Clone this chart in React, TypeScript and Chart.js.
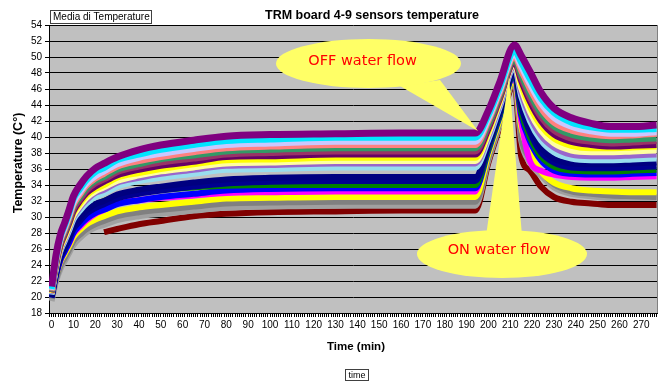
import React, { useEffect, useRef } from "react";
import { Chart, registerables } from "chart.js";

Chart.register(...registerables);

// ---- data (minutes, °C) ----
const TIME = [0, 2, 4, 6, 8, 10, 13, 16, 20, 24, 30, 40, 50, 65, 80, 100, 130, 160, 194, 200, 205, 212, 215, 219, 224, 230, 238, 247, 256, 266, 277];

const X_TICK_LABELS = [0, 10, 20, 30, 40, 50, 60, 70, 80, 90, 100, 110, 120, 130, 140, 150, 160, 170, 180, 190, 200, 210, 220, 230, 240, 250, 260, 270];

const s01 = [21.3, 25.2, 27.8, 29.3, 30.9, 32.6, 34.0, 35.1, 36.1, 36.7, 37.5, 38.4, 39.0, 39.6, 40.1, 40.3, 40.4, 40.5, 40.5, 43.3, 46.7, 51.5, 50.2, 48.2, 45.6, 43.6, 42.4, 41.7, 41.3, 41.3, 41.5];
const s02 = [21.0, 24.8, 27.4, 28.9, 30.4, 32.2, 33.5, 34.6, 35.6, 36.1, 37.1, 37.8, 38.4, 39.0, 39.5, 39.7, 39.9, 39.9, 39.9, 42.7, 46.0, 50.7, 49.3, 47.2, 44.8, 43.0, 41.8, 41.2, 40.9, 40.9, 41.0];
const s03 = [20.9, 24.6, 27.2, 28.7, 30.2, 31.8, 33.1, 34.2, 35.1, 35.7, 36.6, 37.4, 37.9, 38.5, 39.0, 39.2, 39.4, 39.4, 39.4, 42.3, 45.7, 50.3, 48.8, 46.6, 44.2, 42.4, 41.3, 40.7, 40.4, 40.4, 40.6];
const s04 = [20.8, 24.4, 27.0, 28.4, 29.9, 31.5, 32.8, 33.9, 34.8, 35.4, 36.3, 37.0, 37.5, 38.1, 38.6, 38.8, 39.0, 39.0, 39.0, 42.0, 45.4, 50.0, 48.3, 46.0, 43.6, 41.8, 40.8, 40.3, 40.1, 40.2, 40.4];
const s05 = [20.7, 24.3, 26.8, 28.2, 29.7, 31.3, 32.5, 33.6, 34.5, 35.0, 35.9, 36.6, 37.2, 37.7, 38.2, 38.4, 38.6, 38.6, 38.6, 41.6, 45.1, 49.7, 47.8, 45.4, 43.0, 41.3, 40.3, 39.8, 39.6, 39.7, 39.8];
const s06 = [20.6, 24.1, 26.6, 28.0, 29.4, 31.0, 32.2, 33.3, 34.2, 34.7, 35.6, 36.3, 36.8, 37.3, 37.8, 38.0, 38.2, 38.2, 38.2, 41.3, 44.8, 49.5, 47.4, 44.9, 42.5, 40.8, 39.8, 39.4, 39.2, 39.3, 39.5];
const s07 = [20.6, 24.0, 26.4, 27.8, 29.2, 30.7, 32.0, 33.0, 33.8, 34.4, 35.2, 35.9, 36.4, 36.9, 37.5, 37.6, 37.8, 37.8, 37.8, 41.0, 44.6, 49.3, 47.0, 44.4, 42.0, 40.3, 39.4, 39.0, 38.8, 38.9, 39.0];
const s08 = [20.5, 23.9, 26.2, 27.6, 29.0, 30.5, 31.7, 32.7, 33.5, 34.0, 34.9, 35.5, 36.0, 36.6, 37.1, 37.2, 37.4, 37.4, 37.4, 40.7, 44.4, 49.5, 46.6, 43.8, 41.4, 39.8, 38.9, 38.6, 38.6, 38.7, 38.8];
const s09 = [20.5, 23.8, 26.1, 27.4, 28.8, 30.2, 31.4, 32.4, 33.2, 33.7, 34.5, 35.2, 35.7, 36.2, 36.7, 36.8, 37.0, 37.0, 37.0, 40.4, 44.2, 49.1, 46.1, 43.2, 40.8, 39.2, 38.3, 38.1, 38.1, 38.2, 38.3];
const s10 = [20.4, 23.7, 25.9, 27.2, 28.6, 30.0, 31.2, 32.1, 33.0, 33.4, 34.3, 34.9, 35.4, 35.9, 36.4, 36.5, 36.7, 36.7, 36.7, 40.1, 43.9, 48.9, 45.6, 42.6, 40.2, 38.7, 37.8, 37.6, 37.6, 37.7, 37.8];
const s11 = [20.3, 23.5, 25.7, 27.0, 28.3, 29.7, 30.8, 31.7, 32.5, 33.0, 33.8, 34.5, 34.9, 35.4, 35.9, 36.0, 36.2, 36.2, 36.2, 39.7, 43.6, 48.7, 45.1, 42.0, 39.6, 38.1, 37.3, 37.1, 37.1, 37.2, 37.3];
const s12 = [20.0, 23.0, 25.1, 26.3, 27.5, 28.9, 29.9, 30.8, 31.6, 32.0, 32.8, 33.4, 33.8, 34.3, 34.7, 34.9, 35.0, 35.0, 35.0, 39.2, 43.2, 48.3, 44.3, 41.2, 38.7, 37.3, 36.7, 36.6, 36.6, 36.7, 36.8];
const s13 = [19.9, 22.8, 24.9, 26.0, 27.2, 28.5, 29.5, 30.4, 31.1, 31.6, 32.3, 32.9, 33.3, 33.8, 34.2, 34.4, 34.5, 34.5, 34.5, 38.9, 42.9, 48.0, 43.8, 40.6, 38.1, 36.8, 36.2, 36.1, 36.1, 36.2, 36.3];
const s14 = [20.1, 23.1, 25.1, 26.3, 27.5, 28.8, 29.8, 30.7, 31.5, 32.0, 32.6, 33.1, 33.4, 33.7, 33.9, 34.0, 34.0, 34.0, 34.0, 38.6, 42.7, 47.9, 43.2, 40.0, 37.6, 36.3, 35.8, 35.7, 35.7, 35.8, 35.9];
const s15 = [20.0, 22.7, 24.6, 25.7, 26.8, 28.0, 29.0, 29.8, 30.5, 30.9, 31.6, 32.1, 32.5, 32.9, 33.3, 33.5, 33.6, 33.6, 33.6, 38.3, 42.4, 47.7, 42.7, 39.5, 37.1, 35.8, 35.4, 35.3, 35.3, 35.4, 35.5];
const s16 = [20.2, 22.8, 24.6, 25.7, 26.7, 27.9, 28.8, 29.6, 30.4, 30.9, 31.7, 32.1, 32.4, 32.7, 33.0, 33.1, 33.2, 33.2, 33.2, 40.2, 43.5, 47.6, 42.0, 37.0, 35.8, 35.3, 35.0, 34.9, 34.9, 35.0, 35.1];
const s17 = [20.3, 22.7, 24.4, 25.4, 26.4, 27.5, 28.4, 29.1, 29.7, 30.1, 30.7, 31.2, 31.5, 31.9, 32.3, 32.4, 32.5, 32.5, 32.5, 37.9, 42.0, 47.3, 41.3, 38.0, 35.7, 34.3, 33.6, 33.3, 33.2, 33.1, 33.1];
const s18 = [19.8, 22.2, 23.9, 24.9, 25.9, 27.0, 27.8, 28.5, 29.1, 29.5, 30.1, 30.6, 30.9, 31.3, 31.7, 31.8, 31.9, 31.9, 31.9, 37.4, 41.7, 47.1, 40.0, 37.3, 35.7, 34.1, 33.2, 32.9, 32.7, 32.6, 32.5];
const s19 = [19.5, 21.9, 23.5, 24.5, 25.5, 26.5, 27.4, 28.1, 28.7, 29.0, 29.6, 30.1, 30.4, 30.8, 31.2, 31.3, 31.4, 31.4, 31.4, 37.1, 41.4, 46.9, 39.6, 36.8, 35.2, 33.7, 32.9, 32.6, 32.4, 32.4, 32.4];
const s20 = [null, null, null, null, null, null, null, null, null, 28.1, 28.5, 29.1, 29.5, 30.1, 30.4, 30.6, 30.7, 30.8, 30.8, 36.8, 41.1, 46.6, 37.6, 35.8, 33.8, 32.5, 31.9, 31.7, 31.5, 31.5, 31.5];

const SERIES = [s01, s02, s03, s04, s05, s06, s07, s08, s09, s10, s11, s12, s13, s14, s15, s16, s17, s18, s19, s20];
const SERIES_NAMES = ["S1", "S2", "S3", "S4", "S5", "S6", "S7", "S8", "S9", "S10", "S11", "S12", "S13", "S14", "S15", "S16", "S17", "S18", "S19", "S20"];

// ---- styles ----
const COLORS = [
  "#800080", "#00E5FF", "#C8C8FF", "#FF8080", "#339966",
  "#993366", "#660066", "#FFFF00", "#FFFFA0", "#9966CC",
  "#99DDEE", "#000080", "#000090", "#008000", "#0000FF",
  "#FF00FF", "#FFFF00", "#808080", "#A0A0A0", "#800000",
];

const FONT = '"Liberation Sans", Arial, sans-serif';

function drawCallout(
  ctx: CanvasRenderingContext2D,
  cx: number, cy: number, rx: number, ry: number,
  tail: number[][], text: string, tx: number, ty: number
) {
  ctx.save();
  ctx.fillStyle = "#FFFF66";
  ctx.beginPath();
  ctx.moveTo(tail[0][0], tail[0][1]);
  ctx.lineTo(tail[1][0], tail[1][1]);
  ctx.lineTo(tail[2][0], tail[2][1]);
  ctx.closePath();
  ctx.fill();
  ctx.beginPath();
  ctx.ellipse(cx, cy, rx, ry, 0, 0, Math.PI * 2);
  ctx.fill();
  ctx.fillStyle = "#FF0000";
  ctx.font = '14.5px "DejaVu Sans", Verdana, sans-serif';
  ctx.textAlign = "center";
  ctx.textBaseline = "middle";
  ctx.fillText(text, tx, ty);
  ctx.restore();
}

const decorPlugin = {
  id: "decor",
  beforeDraw(chart: any) {
    const { ctx, chartArea: a } = chart;
    ctx.save();
    ctx.fillStyle = "#C0C0C0";
    ctx.fillRect(a.left, a.top, a.right - a.left, a.bottom - a.top);
    ctx.restore();
  },
  afterDraw(chart: any) {
    const { ctx, chartArea: a } = chart;
    ctx.save();
    // plot area right border
    ctx.strokeStyle = "#808080";
    ctx.lineWidth = 1;
    ctx.beginPath();
    ctx.moveTo(Math.round(a.right) + 0.5, a.top);
    ctx.lineTo(Math.round(a.right) + 0.5, a.bottom);
    ctx.stroke();

    drawCallout(ctx, 368.5, 63.5, 92.5, 24.5, [[400, 86], [440, 80], [478, 131]], "OFF water flow", 362.5, 61);
    drawCallout(ctx, 502, 254, 85, 24, [[486, 236], [522, 236], [509, 77]], "ON water flow", 499, 250);

    // title
    ctx.fillStyle = "#000";
    ctx.font = "bold 12.5px " + FONT;
    ctx.textAlign = "center";
    ctx.textBaseline = "alphabetic";
    ctx.fillText("TRM board 4-9 sensors temperature", 372, 19);

    // "Media di Temperature" box
    ctx.fillStyle = "#FFFFFF";
    ctx.fillRect(50.5, 10.5, 101, 13);
    ctx.strokeStyle = "#404040";
    ctx.strokeRect(50.5, 10.5, 101, 13);
    ctx.fillStyle = "#000";
    ctx.font = "10px " + FONT;
    ctx.textAlign = "left";
    ctx.textBaseline = "middle";
    ctx.fillText("Media di Temperature", 53, 17.5);

    // y axis title
    ctx.save();
    ctx.translate(19, 163);
    ctx.rotate(-Math.PI / 2);
    ctx.font = "bold 12.5px " + FONT;
    ctx.textAlign = "center";
    ctx.textBaseline = "middle";
    ctx.fillText("Temperature (C°)", 0, 0);
    ctx.restore();

    // x axis title
    ctx.font = "bold 11.5px " + FONT;
    ctx.textAlign = "center";
    ctx.textBaseline = "middle";
    ctx.fillText("Time (min)", 356, 347);

    // "time" box
    ctx.fillStyle = "#FFFFFF";
    ctx.fillRect(345.5, 369.5, 23, 11);
    ctx.strokeStyle = "#404040";
    ctx.strokeRect(345.5, 369.5, 23, 11);
    ctx.fillStyle = "#000";
    ctx.font = "9px " + FONT;
    ctx.fillText("time", 357, 375.5);
    ctx.restore();
  },
};

export default function App() {
  const ref = useRef<HTMLCanvasElement | null>(null);

  useEffect(() => {
    if (!ref.current) return;
    Chart.defaults.font.family = FONT;
    const datasets = SERIES.map((vals, i) => ({
      label: SERIES_NAMES[i],
      data: TIME.map((t, j) => ({ x: t, y: vals[j] })),
      borderColor: COLORS[i],
      backgroundColor: COLORS[i],
      borderWidth: i === 0 ? 7 : 6,
      pointRadius: 0,
      cubicInterpolationMode: "monotone" as const,
      spanGaps: false,
    }));

    const chart = new Chart(ref.current, {
      type: "line",
      data: { datasets },
      options: {
        animation: false,
        responsive: false,
        devicePixelRatio: 1,
        layout: { padding: { left: 0, right: 10, top: 25, bottom: 0 } },
        plugins: {
          legend: { display: false },
          tooltip: { enabled: false },
          title: { display: false },
        },
        scales: {
          x: {
            type: "linear",
            min: -1.2,
            max: 277.2,
            afterFit: (scale: any) => {
              scale.height = 68;
            },
            grid: { drawOnChartArea: false, tickLength: 4, color: "#000" },
            border: { color: "#000" },
            ticks: {
              stepSize: 1,
              autoSkip: false,
              includeBounds: false,
              maxRotation: 0,
              minRotation: 0,
              padding: 2,
              color: "#000",
              font: { size: 10, family: FONT },
              callback: (v: any) => (X_TICK_LABELS.includes(Number(v)) ? String(v) : ""),
            },
          },
          y: {
            min: 18,
            max: 54,
            afterFit: (scale: any) => {
              scale.width = 49;
            },
            grid: { color: "#000", tickLength: 4, lineWidth: 1 },
            border: { color: "#000" },
            ticks: {
              stepSize: 2,
              padding: 3,
              color: "#000",
              font: { size: 10, family: FONT },
            },
          },
        },
      },
      plugins: [decorPlugin],
    });
    return () => chart.destroy();
  }, []);

  return (
    <div style={{ position: "fixed", left: 0, top: 0, width: 667, height: 381, background: "#fff" }}>
      <canvas ref={ref} width={667} height={381} style={{ display: "block" }} />
    </div>
  );
}
